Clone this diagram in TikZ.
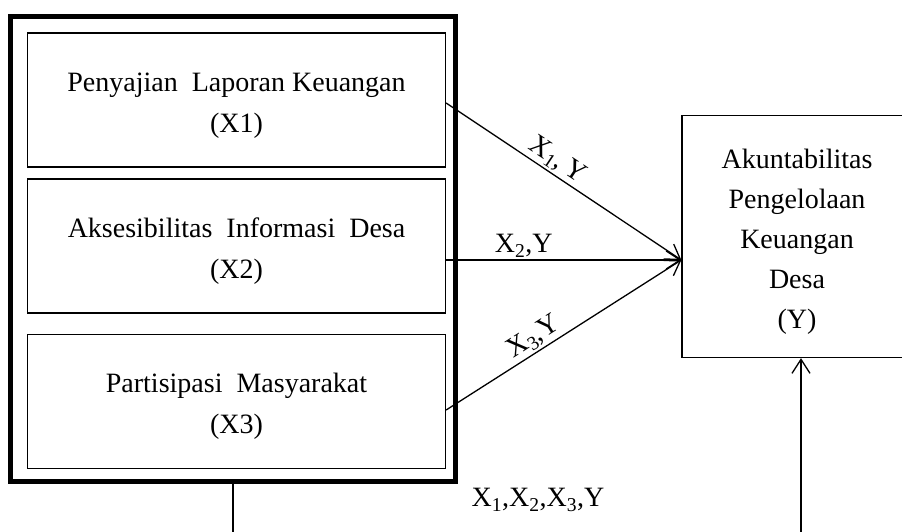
\documentclass[tikz,border=0pt]{standalone}
\usepackage{fontspec}
\setmainfont{Liberation Serif}
\usetikzlibrary{arrows.meta}

% strut that pushes the text a little down in its box
\newcommand{\topgap}{\rule{0pt}{29pt}}

\tikzset{
  varbox/.style={draw, line width=1.3pt, minimum width=418pt, minimum height=134pt,
    align=center, inner sep=0pt, font=\fontsize{28}{41}\selectfont},
  ybox/.style={draw, line width=1.3pt, minimum width=230pt, minimum height=242pt,
    align=center, inner sep=0pt, font=\fontsize{28}{40}\selectfont},
  outerbox/.style={draw, line width=5pt, minimum width=445pt, minimum height=465pt},
  link/.style={line width=1.3pt, -{Straight Barb[length=14pt,width=18pt,line width=1.3pt]}},
  plain/.style={line width=1.3pt},
  lbl/.style={font=\fontsize{28}{30}\selectfont, inner sep=2pt}
}

\begin{document}
\begin{tikzpicture}[x=1pt,y=1pt]

\useasboundingbox (0,0) rectangle (902,532);
\clip (0,0) rectangle (902,532);

% Frame round the three X variables
\node[outerbox] (frame) at (233,283) {};

% X variables
\node[varbox] (x1) at (236.5,432) {\topgap Penyajian\ \ Laporan Keuangan\\(X1)};
\node[varbox] (x2) at (236.5,286) {\topgap Aksesibilitas\ \ Informasi\ \ Desa\\(X2)};
\node[varbox] (x3) at (236.5,130.5) {\topgap Partisipasi\ \ Masyarakat\\(X3)};

% Y variable (runs off the right edge)
\node[ybox] (akun) at (797,295.5) {\topgap Akuntabilitas\\Pengelolaan\\Keuangan\\Desa\\(Y)};

% Point where the arrows meet
\coordinate (hub) at ([yshift=-23.5pt]akun.west);

% Arrows X -> Y
\draw[link] ([yshift=-3pt]x1.east) -- node[lbl, sloped, above, pos=0.44] (l1) {X\textsubscript{1},\,Y} (hub);
\draw[link] ([yshift=-14pt]x2.east) -- node[lbl, above, pos=0.33] (l2) {X\textsubscript{2},Y} (hub);
\draw[link] ([yshift=-8.5pt]x3.east) -- node[lbl, sloped, above, pos=0.405] (l3) {X\textsubscript{3},Y} (hub);

% Lines at the bottom
\coordinate (b1) at (233,0);
\coordinate (b2) at (801,0);
\draw[plain] (frame.south) -- (b1);
\draw[link] (b2) -- (b2 |- akun.south);

% Joint label
\node[lbl] (joint) at (538,32) {X\textsubscript{1},X\textsubscript{2},X\textsubscript{3},Y};

\end{tikzpicture}
\end{document}
